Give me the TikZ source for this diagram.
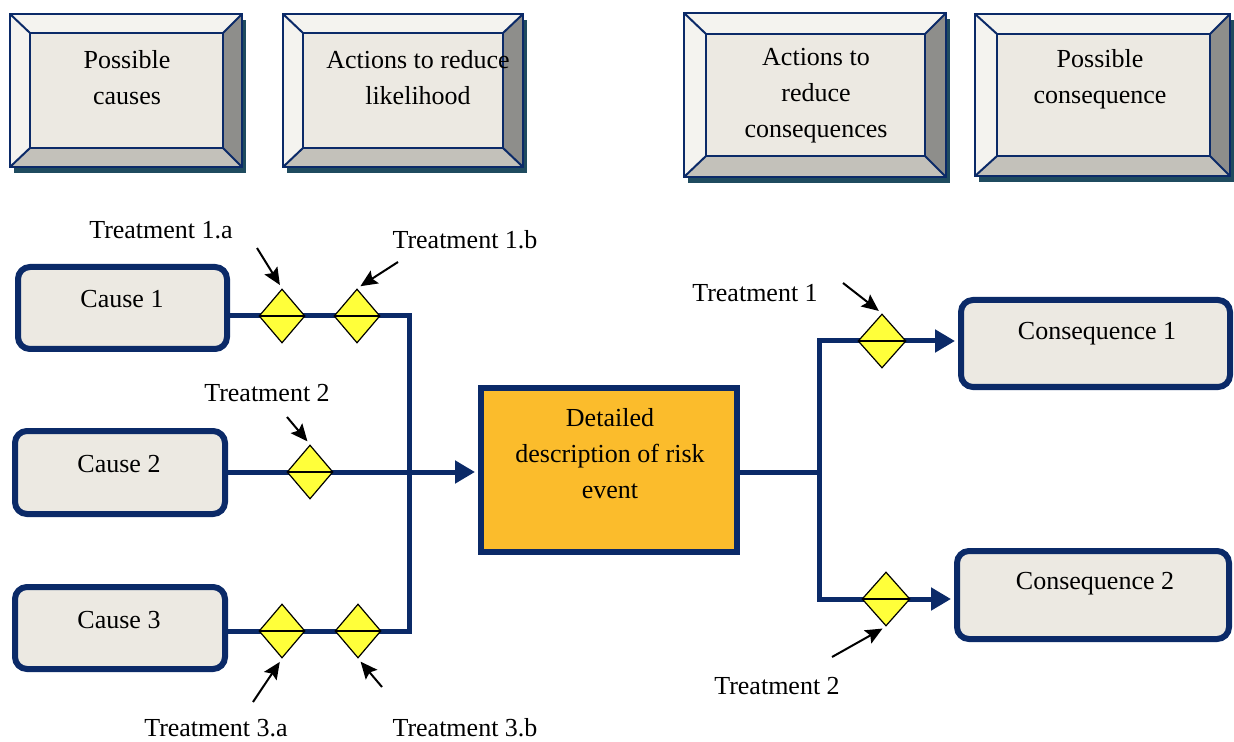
\documentclass[tikz,border=0pt]{standalone}
\usepackage{fontspec}
\setmainfont{Liberation Serif}
\usetikzlibrary{shapes.geometric,arrows.meta,backgrounds}
\definecolor{navy}{HTML}{0B2A68}
\definecolor{boxfill}{HTML}{ECE9E2}
\definecolor{evfill}{HTML}{FBBC2C}
\definecolor{dyellow}{HTML}{FFFF3A}
\definecolor{bvlight}{HTML}{F4F3EF}
\definecolor{bvright}{HTML}{8E8E8B}
\definecolor{bvbottom}{HTML}{C3C1BA}
\definecolor{shadowc}{HTML}{1F4B5F}
\newcommand\bevelbox[8]{%
  \fill[shadowc] (#1+4,#2+6) rectangle (#3+4,#4+6);
  \fill[bvlight] (#1,#2) rectangle (#3,#4);
  \fill[bvright] (#3,#2) -- (#3,#4) -- (#7,#8) -- (#7,#6) -- cycle;
  \fill[bvbottom] (#1,#4) -- (#3,#4) -- (#7,#8) -- (#5,#8) -- cycle;
  \fill[boxfill] (#5,#6) rectangle (#7,#8);
  \draw[bvline] (#1,#2) rectangle (#3,#4);
  \draw[bvline] (#5,#6) rectangle (#7,#8);
  \draw[bvline] (#1,#2) -- (#5,#6) (#3,#2) -- (#7,#6) (#1,#4) -- (#5,#8) (#3,#4) -- (#7,#8);
}
\begin{document}
\begin{tikzpicture}[x=0.5pt,y=-0.5pt,
  bvline/.style={draw=navy, line width=1pt},
  causebox/.style={draw=navy, line width=3pt, fill=boxfill, rounded corners=6pt, inner sep=0pt},
  evbox/.style={draw=navy, line width=3pt, fill=evfill, inner sep=0pt},
  dmd/.style={diamond, draw=black, line width=0.6pt, fill=dyellow, inner sep=0pt,
    minimum width=23pt, minimum height=27pt,
    path picture={\draw[black, line width=0.7pt] (path picture bounding box.west) -- (path picture bounding box.east);}},
  conn/.style={draw=navy, line width=2.5pt},
  tip/.style={-{Triangle[length=10pt,width=11pt]}, shorten >=1.5pt},
  ptr/.style={draw=black, line width=1pt, -{Stealth[length=8.5pt,width=7.5pt,inset=1.5pt]}, shorten >=2pt},
  txt/.style={font=\fontsize{13pt}{18pt}\selectfont, align=center, inner sep=0pt, text=black}]
\useasboundingbox (0,0) rectangle (1234,742);

% bevelled header boxes
\bevelbox{10}{14}{242}{167}{30}{33}{223}{148}
\bevelbox{283}{14}{523}{167}{303}{33}{503}{148}
\bevelbox{684}{13}{946}{177}{706}{34}{925}{156}
\bevelbox{975}{14}{1230}{176}{997}{34}{1210}{156}
\node[txt] (h1) at (127,78) {Possible\\causes};
\node[txt] (h2) at (418,78) {Actions to reduce\\likelihood};
\node[txt] (h3) at (816,96) {Actions to\\reduce\\consequences};
\node[txt] (h4) at (1100,79) {Possible\\consequence};

% cause boxes
\node[causebox, minimum width=104.5pt, minimum height=41pt] (c1) at (122.5,308) {};
\node[causebox, minimum width=105pt, minimum height=41.5pt] (c2) at (120,472.5) {};
\node[causebox, minimum width=105pt, minimum height=41pt] (c3) at (120,628) {};
\node[txt] (c1t) at (122,299) {Cause 1};
\node[txt] (c2t) at (119,464) {Cause 2};
\node[txt] (c3t) at (119,620) {Cause 3};

% event box
\node[evbox, minimum width=128pt, minimum height=82pt] (ev) at (609,470) {};
\node[txt] (evt) at (610,454) {Detailed\\description of risk\\event};

% consequence boxes
\node[causebox, minimum width=134.5pt, minimum height=43.5pt] (k1) at (1095.5,343.5) {};
\node[causebox, minimum width=136pt, minimum height=44pt] (k2) at (1093,595) {};
\node[txt] (k1t) at (1097,334) {Consequence 1};
\node[txt] (k2t) at (1095,584) {Consequence 2};

% treatment diamonds
\node[dmd] (t1a) at (282,316) {};
\node[dmd] (t1b) at (357,316) {};
\node[dmd] (t2)  at (310,472) {};
\node[dmd] (t3a) at (282,631) {};
\node[dmd] (t3b) at (358,631) {};
\node[dmd, minimum width=24pt] (tr1) at (882,341) {};
\node[dmd, minimum width=24pt] (tr2) at (886,599) {};

% junctions
\coordinate (jl1) at (409,316);
\coordinate (jl3) at (409,631);
\coordinate (jr0) at (819,472);
\coordinate (jr1) at (819,341);
\coordinate (jr2) at (819,599);

\begin{scope}[on background layer]
  \draw[conn] (c1.east |- jl1) -- (jl1) -- (jl3) -- (c3.east |- jl3);
  \draw[conn, tip] (c2.east |- t2) -- (ev.west |- t2);
  \draw[conn] (ev.east |- jr0) -- (jr0);
  \draw[conn, tip] (jr0) -- (jr1) -- (k1.west |- jr1);
  \draw[conn, tip] (jr0) -- (jr2) -- (k2.west |- jr2);
\end{scope}

% treatment labels
\node[txt] (l1a) at (161,230) {Treatment 1.a};
\node[txt] (l1b) at (465,240) {Treatment 1.b};
\node[txt] (l2)  at (267,393) {Treatment 2};
\node[txt] (lr1) at (755,293) {Treatment 1};
\node[txt] (lr2) at (777,686) {Treatment 2};
\node[txt] (l3a) at (216,728) {Treatment 3.a};
\node[txt] (l3b) at (465,728) {Treatment 3.b};

\coordinate (p1a) at (257,248);
\coordinate (p1b) at (398,262);
\coordinate (p2)  at (287,417);
\coordinate (pr1) at (843,283);
\coordinate (pr2) at (832,657);
\coordinate (p3a) at (253,702);
\coordinate (p3b) at (382,687);
\draw[ptr] (p1a) -- (t1a.north);
\draw[ptr] (p1b) -- (t1b.north);
\draw[ptr] (p2)  -- (t2.north);
\draw[ptr] (pr1) -- (tr1.north);
\draw[ptr] (pr2) -- (tr2.south);
\draw[ptr] (p3a) -- (t3a.south);
\draw[ptr] (p3b) -- (t3b.south);
\end{tikzpicture}
\end{document}
